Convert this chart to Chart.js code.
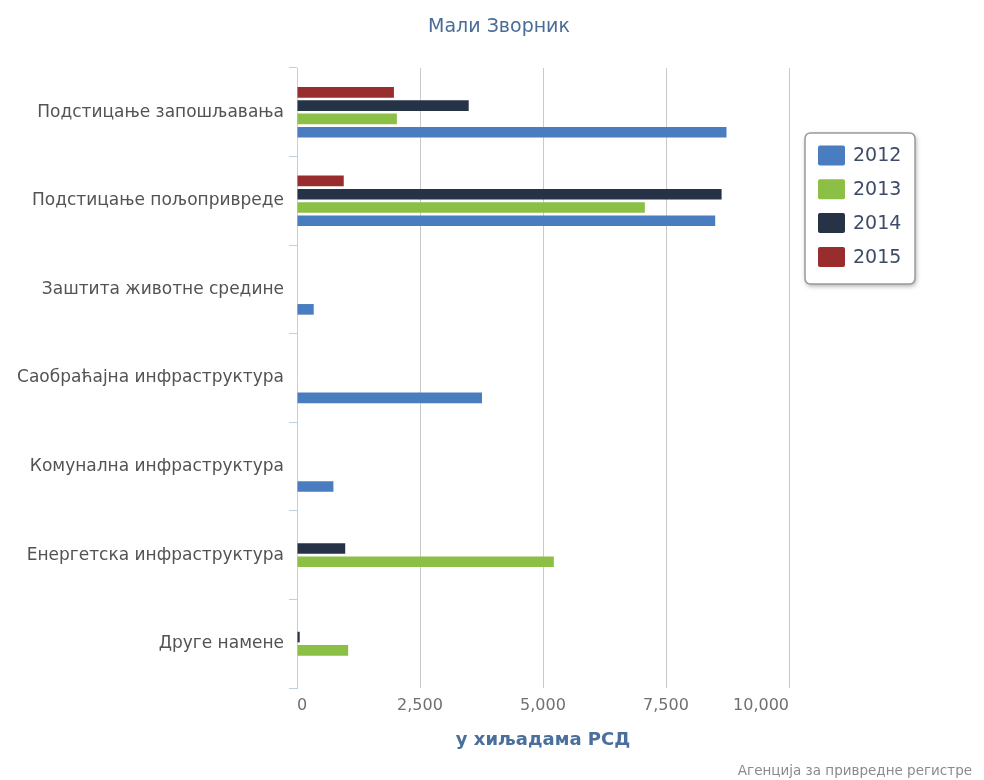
<!DOCTYPE html>
<html>
<head>
<meta charset="utf-8">
<title>Мали Зворник</title>
<script src="https://cdn.jsdelivr.net/npm/chart.js@4.4.0/dist/chart.umd.min.js"></script>
<style>
  html, body { margin: 0; padding: 0; background: #fff; }
  #wrap { width: 984px; height: 780px; }
</style>
</head>
<body>
<div id="wrap"><canvas id="chart" width="984" height="780"></canvas></div>
<script>
const chartTitle = "Мали Зворник";
const axisTitle = "у хиљадама РСД";
const creditText = "Агенција за привредне регистре";

const categories = [
  "Подстицање запошљавања",
  "Подстицање пољопривреде",
  "Заштита животне средине",
  "Саобраћајна инфраструктура",
  "Комунална инфраструктура",
  "Енергетска инфраструктура",
  "Друге намене",
];

// amounts in thousands of RSD, null = no spending that year
const years = ["2012", "2013", "2014", "2015"];
const v2012 = [8730, 8500, 340, 3760, 740, null, null];
const v2013 = [2030, 7070, null, null, null, 5220, 1040];
const v2014 = [3490, 8630, null, null, null, 980, 55];
const v2015 = [1970, 950, null, null, null, null, null];
const colors = ["#4a7dc0", "#8bbf46", "#263246", "#992d2e"];

const xTicks = [0, 2500, 5000, 7500, 10000];

const FONT = "'DejaVu Sans', Verdana, sans-serif";

// ================= LEGEND / TITLE / CREDIT =================
function roundRect(ctx, x, y, w, h, r) {
  ctx.beginPath();
  ctx.moveTo(x + r, y);
  ctx.lineTo(x + w - r, y);
  ctx.quadraticCurveTo(x + w, y, x + w, y + r);
  ctx.lineTo(x + w, y + h - r);
  ctx.quadraticCurveTo(x + w, y + h, x + w - r, y + h);
  ctx.lineTo(x + r, y + h);
  ctx.quadraticCurveTo(x, y + h, x, y + h - r);
  ctx.lineTo(x, y + r);
  ctx.quadraticCurveTo(x, y, x + r, y);
  ctx.closePath();
}

const extras = {
  id: "extras",
  afterDraw(chart) {
    const ctx = chart.ctx;
    ctx.save();

    // title
    ctx.fillStyle = "#4a6c98";
    ctx.font = "19px " + FONT;
    ctx.textAlign = "center";
    ctx.textBaseline = "middle";
    ctx.fillText(chartTitle, 499, 27);

    // credit
    ctx.fillStyle = "#8a8a8a";
    ctx.font = "13.5px " + FONT;
    ctx.textAlign = "right";
    ctx.fillText(creditText, 972, 771);

    // legend box with shadow
    const bx = 805, by = 133, bw = 110, bh = 151;
    ctx.save();
    ctx.shadowColor = "rgba(0,0,0,0.35)";
    ctx.shadowBlur = 5;
    ctx.shadowOffsetX = 1;
    ctx.shadowOffsetY = 2;
    roundRect(ctx, bx, by, bw, bh, 6);
    ctx.fillStyle = "#fff";
    ctx.fill();
    ctx.restore();
    roundRect(ctx, bx, by, bw, bh, 6);
    ctx.strokeStyle = "#9a9a9a";
    ctx.lineWidth = 1.5;
    ctx.stroke();

    // legend items, 2012 first
    const sets = chart.data.datasets.slice().reverse();
    ctx.font = "19px " + FONT;
    ctx.textAlign = "left";
    sets.forEach((ds, i) => {
      const rowY = 155.5 + i * 33.8;
      roundRect(ctx, 818, rowY - 10, 27, 20, 2);
      ctx.fillStyle = ds.backgroundColor;
      ctx.fill();
      ctx.fillStyle = "#3d4b66";
      ctx.fillText(ds.label, 853, rowY + 1);
    });

    ctx.restore();
  },
};

// ================= CHART =================
const series = [v2012, v2013, v2014, v2015];
// top bar in each group is the latest year
const datasets = years
  .map((y, i) => ({
    label: y,
    data: series[i],
    backgroundColor: colors[i],
    borderWidth: 0,
    categoryPercentage: 0.6,
    barPercentage: 0.8,
  }))
  .reverse();

new Chart(document.getElementById("chart"), {
  type: "bar",
  data: { labels: categories, datasets },
  options: {
    indexAxis: "y",
    responsive: false,
    animation: false,
    layout: { padding: { left: 0, right: 195, top: 68, bottom: 0 } },
    plugins: {
      legend: { display: false },
      tooltip: { enabled: false },
    },
    scales: {
      x: {
        min: 0,
        max: 10000,
        afterBuildTicks(scale) {
          scale.ticks = xTicks.map(v => ({ value: v }));
        },
        afterFit(scale) {
          scale.height = 92;
        },
        ticks: {
          align: "inner",
          padding: 8,
          color: "#707070",
          font: { size: 16, family: FONT },
          callback: v => v.toLocaleString("en-US"),
        },
        grid: {
          color: c => (c.tick && c.tick.value === 0 ? "rgba(0,0,0,0)" : "#c9c9c9"),
          drawTicks: false,
          lineWidth: 1,
        },
        border: { display: false },
        title: {
          display: true,
          text: axisTitle,
          color: "#4a6f9a",
          font: { size: 18, weight: "bold", family: FONT },
          padding: { top: 0, bottom: 29 },
        },
      },
      y: {
        afterFit(scale) {
          scale.width = 297;
        },
        ticks: {
          padding: 5,
          color: "#535353",
          font: { size: 17, family: FONT },
        },
        grid: {
          drawOnChartArea: false,
          drawTicks: true,
          tickLength: 8,
          offset: true,
          color: "#c0d0e0",
        },
        border: { display: true, color: "#c0d0e0", width: 1 },
      },
    },
  },
  plugins: [extras],
});
</script>
</body>
</html>
